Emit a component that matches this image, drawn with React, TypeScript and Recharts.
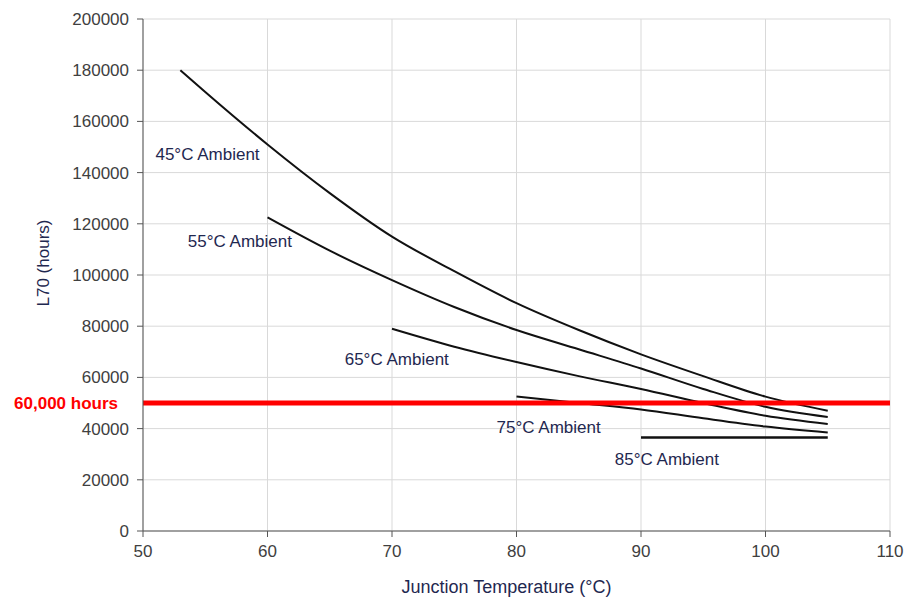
import React from "react";
import {
  LineChart,
  Line,
  XAxis,
  YAxis,
  CartesianGrid,
  ReferenceLine,
  ReferenceDot,
  Label,
} from "recharts";

// junction temperature (°C) -> L70 hours, one array per ambient temperature
const ambient45 = [
  { t: 53, h: 180000 },
  { t: 55, h: 171500 },
  { t: 60, h: 151000 },
  { t: 65, h: 132000 },
  { t: 70, h: 115000 },
  { t: 75, h: 101500 },
  { t: 80, h: 89000 },
  { t: 85, h: 78500 },
  { t: 90, h: 69000 },
  { t: 95, h: 60500 },
  { t: 100, h: 52500 },
  { t: 105, h: 47000 },
];

const ambient55 = [
  { t: 60, h: 122500 },
  { t: 65, h: 109500 },
  { t: 70, h: 98000 },
  { t: 75, h: 87500 },
  { t: 80, h: 78500 },
  { t: 85, h: 71000 },
  { t: 90, h: 63500 },
  { t: 95, h: 55500 },
  { t: 100, h: 48500 },
  { t: 105, h: 44500 },
];

const ambient65 = [
  { t: 70, h: 79000 },
  { t: 75, h: 72000 },
  { t: 80, h: 66000 },
  { t: 85, h: 60500 },
  { t: 90, h: 55500 },
  { t: 95, h: 50000 },
  { t: 100, h: 45000 },
  { t: 105, h: 41800 },
];

const ambient75 = [
  { t: 80, h: 52500 },
  { t: 85, h: 50000 },
  { t: 90, h: 47500 },
  { t: 95, h: 44000 },
  { t: 100, h: 40800 },
  { t: 105, h: 38500 },
];

const ambient85 = [
  { t: 90, h: 36500 },
  { t: 105, h: 36500 },
];

const series = [ambient45, ambient55, ambient65, ambient75, ambient85];

// curve annotations (text starts at x, vertically centred on y)
const labelText = ["45°C Ambient", "55°C Ambient", "65°C Ambient", "75°C Ambient", "85°C Ambient"];
const labelX = [51, 53.6, 66.2, 78.4, 87.9];
const labelY = [147000, 113000, 66800, 40600, 28000];

const xTicks = [50, 60, 70, 80, 90, 100, 110];
const yTicks = [0, 20000, 40000, 60000, 80000, 100000, 120000, 140000, 160000, 180000, 200000];

const targetHours = 50000;
const targetLabel = "60,000 hours";

const FONT = "'Liberation Sans', Arial, sans-serif";
const NAVY = "#1f2850";

export default function App() {
  return (
    <div style={{ position: "absolute", left: 0, top: 0, background: "#fff" }}>
      <LineChart
        width={911}
        height={598}
        margin={{ top: 19, right: 21, bottom: 0, left: 0 }}
        style={{ fontFamily: FONT }}
      >
        <CartesianGrid stroke="#d9d9d9" strokeWidth={1} />
        <XAxis
          type="number"
          dataKey="t"
          domain={[50, 110]}
          ticks={xTicks}
          allowDuplicatedCategory={false}
          stroke="#555"
          tickSize={6}
          tickMargin={8}
          height={67}
          tick={{ fontSize: 17, fill: "#404040" }}
        >
          <Label
            content={(props: any) => {
              const vb = props.viewBox;
              return (
                <text
                  x={vb.x + vb.width / 2 - 10}
                  y={vb.y + vb.height - 11}
                  textAnchor="middle"
                  dominantBaseline="central"
                  fontSize={18}
                  fill={NAVY}
                  fontFamily={FONT}
                >
                  Junction Temperature (°C)
                </text>
              );
            }}
          />
        </XAxis>
        <YAxis
          type="number"
          dataKey="h"
          domain={[0, 200000]}
          ticks={yTicks}
          stroke="#555"
          width={143}
          tickSize={6}
          tickMargin={8}
          tick={{ fontSize: 17, fill: "#404040" }}
        >
          <Label
            content={(props: any) => {
              const vb = props.viewBox;
              const cx = vb.x + 43;
              const cy = vb.y + vb.height / 2 - 12;
              return (
                <text
                  transform={`translate(${cx},${cy}) rotate(-90)`}
                  textAnchor="middle"
                  dominantBaseline="central"
                  fontSize={17}
                  fill={NAVY}
                  fontFamily={FONT}
                >
                  L70 (hours)
                </text>
              );
            }}
          />
        </YAxis>
        {series.map((data, i) => (
          <Line
            key={labelText[i]}
            data={data}
            dataKey="h"
            type="monotone"
            stroke="#111"
            strokeWidth={i === 4 ? 2.5 : 2}
            dot={false}
            isAnimationActive={false}
          />
        ))}
        <ReferenceLine y={targetHours} stroke="#ff0000" strokeWidth={5}>
          <Label
            value={targetLabel}
            position="left"
            offset={25}
            style={{ fontSize: 17, fontWeight: "bold", fill: "#ff0000" }}
          />
        </ReferenceLine>
        {labelText.map((txt, i) => (
          <ReferenceDot
            key={txt}
            x={labelX[i]}
            y={labelY[i]}
            r={0}
            shape={(p: any) => (
              <text
                x={p.cx}
                y={p.cy}
                dominantBaseline="central"
                fontSize={17}
                fill={NAVY}
                fontFamily={FONT}
              >
                {txt}
              </text>
            )}
          />
        ))}
      </LineChart>
    </div>
  );
}
